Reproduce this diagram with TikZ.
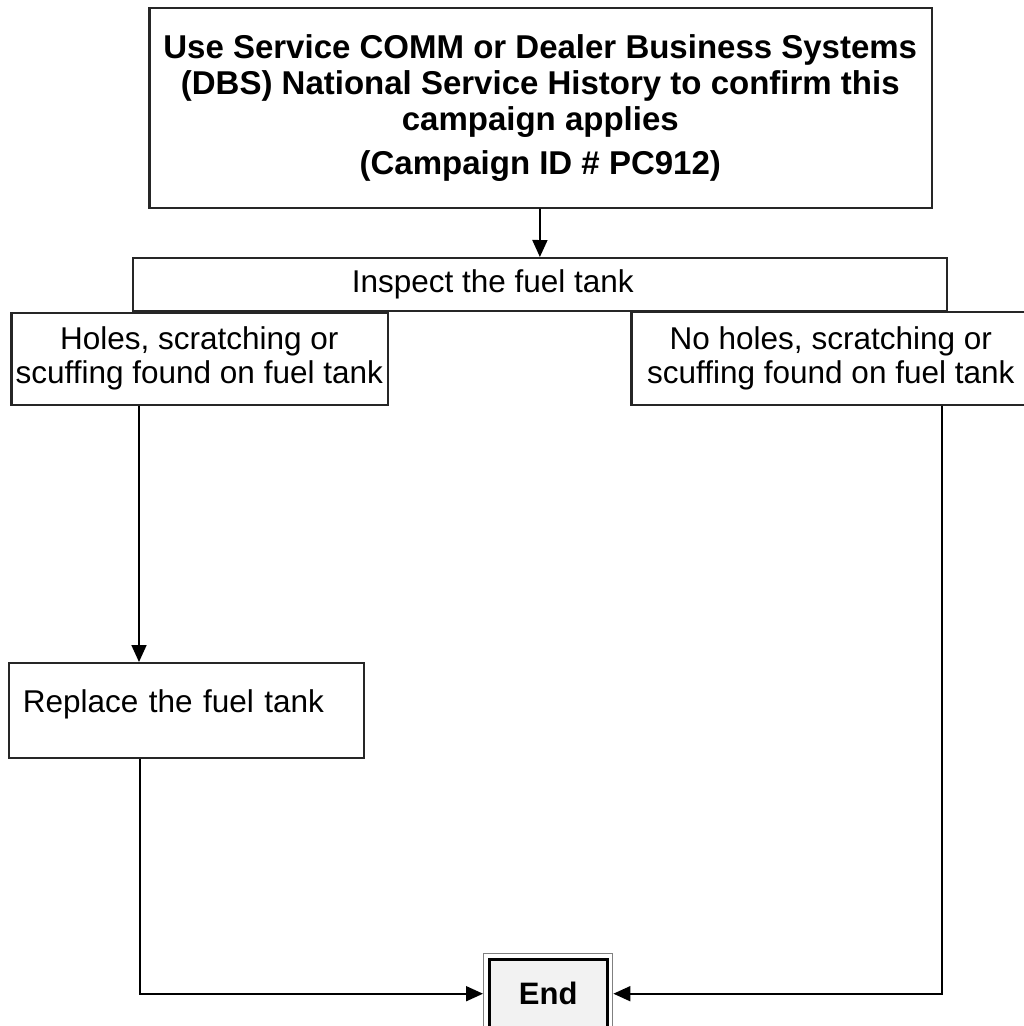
\documentclass[tikz,border=0pt]{standalone}
\usepackage{fontspec}
\setmainfont{Liberation Sans}
\usepackage{tikz}
\usetikzlibrary{arrows.meta, positioning}
\definecolor{endfill}{HTML}{F2F2F2}
\newcommand{\bodyfont}{\fontsize{31.5}{34}\selectfont}
\newcommand{\headfont}{\fontsize{33}{36}\selectfont\bfseries}
\tikzstyle{process} = [rectangle, anchor=north west, draw=black!85, line width=1.6pt, inner xsep=2pt, inner ysep=0pt, align=center, font=\bodyfont]
\tikzstyle{heavyleft} = [path picture={\draw[line width=3.6pt] (path picture bounding box.north west) -- (path picture bounding box.south west);}]
\tikzstyle{terminator} = [rectangle, anchor=north west, draw=gray, line width=1.4pt, fill=white, minimum width=129pt, minimum height=80pt, font=\fontsize{31}{34}\selectfont\bfseries, path picture={\draw[black, line width=2.8pt, fill=endfill] ([shift={(5.5pt,-5.5pt)}]path picture bounding box.north west) rectangle ([shift={(-5.5pt,5.5pt)}]path picture bounding box.south east);}]
\tikzstyle{arrow} = [line width=1.8pt, -{Triangle[length=17pt, width=15pt]}]

\begin{document}
\begin{tikzpicture}[x=1pt, y=-1pt]
\useasboundingbox (0,0) rectangle (1024,1026);

% Boxes
\node (confirm) [process, heavyleft, minimum width=783pt, minimum height=200pt, font=\headfont] at (148,7) {
    Use Service COMM or Dealer Business Systems\\
    (DBS) National Service History to confirm this\\
    campaign applies\\[8pt]
    (Campaign ID \# PC912)
};
\node (inspect) [process, minimum width=814pt, minimum height=53pt] at (132,257) {\hspace*{-94pt}Inspect the fuel tank};

\node (holes) [process, heavyleft, minimum width=377pt, minimum height=92pt] at (10,312) {Holes, scratching or\\scuffing found on fuel tank};
\node (noholes) [process, heavyleft, minimum width=400pt, minimum height=93pt] at (630,311) {No holes, scratching or\\scuffing found on fuel tank};

\node (replace) [process, align=left, text width=327pt, inner xsep=14pt, minimum height=95pt, text height=23pt, text depth=18pt] at (8,662) {Replace the fuel tank};

\node (finish) [terminator] at (483,953) {End};

% Arrows
\draw [arrow] (confirm) -- (inspect);
\draw [arrow] ([xshift=131pt]replace.north west |- holes.south) -- ([xshift=131pt]replace.north west);
\draw [arrow] ([xshift=132pt]replace.south west) |- (finish.west);
\draw [arrow] ([xshift=312pt]noholes.south west) |- (finish.east);

\end{tikzpicture}
\end{document}
